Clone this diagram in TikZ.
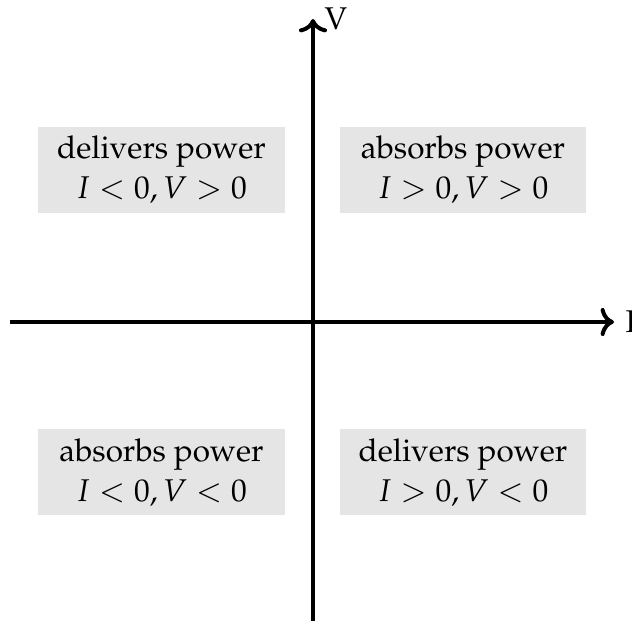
\documentclass[tikz,border=0pt]{standalone}
\usepackage[T1]{fontenc}
\usepackage{mathpazo}
\usetikzlibrary{arrows.meta}
\begin{document}
\begin{tikzpicture}[x=0.35pt,y=-0.35pt,
  axis/.style={line width=1.4pt,-{Computer Modern Rightarrow}},
  quad/.style={fill=black!10,align=center,minimum width=86.45pt,minimum height=30.1pt,inner sep=0pt,font=\fontsize{11}{14}\selectfont}]
\useasboundingbox (0,0) rectangle (632,621);
\coordinate (xl) at (10,322);
\coordinate (xr) at (614,322);
\coordinate (yb) at (313,621);
\coordinate (yt) at (313,19);
\draw[axis] (xl) -- (xr) node[right,font=\fontsize{11}{14}\selectfont] (ilab) {I};
\draw[axis] (yb) -- (yt) node[right,font=\fontsize{11}{14}\selectfont] (vlab) {V};
\node[quad] (q2) at (161.5,170) {delivers power\\ $I<0, V>0$};
\node[quad] (q1) at (463,170) {absorbs power\\ $I>0, V>0$};
\node[quad] (q3) at (161.5,472.5) {absorbs power\\ $I<0, V<0$};
\node[quad] (q4) at (463,472.5) {delivers power\\ $I>0, V<0$};
\end{tikzpicture}
\end{document}
